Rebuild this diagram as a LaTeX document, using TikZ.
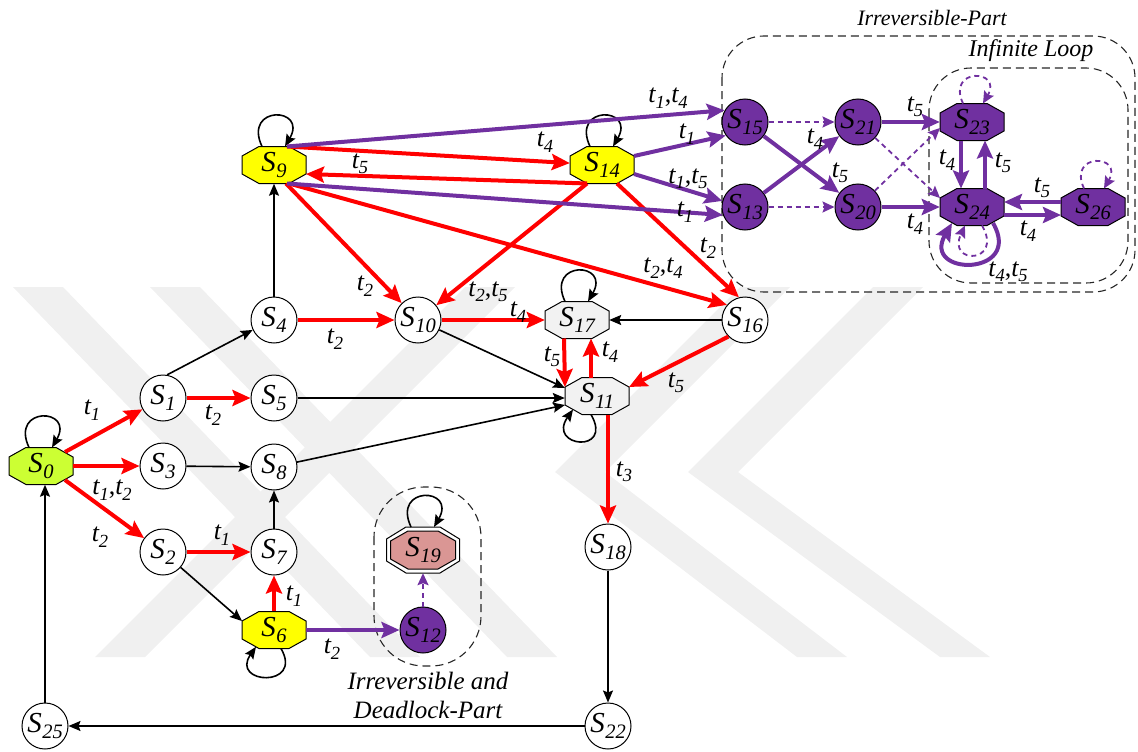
\documentclass[tikz,border=0pt]{standalone}
\usepackage{fontspec}
\setmainfont{Liberation Serif}
\usetikzlibrary{arrows.meta}
\definecolor{vio}{RGB}{112,48,160}
\definecolor{rd}{RGB}{255,0,0}
\definecolor{yel}{RGB}{255,255,0}
\definecolor{lime}{RGB}{204,255,51}
\definecolor{lgr}{RGB}{242,242,242}
\definecolor{rose}{RGB}{218,150,148}
\definecolor{wmark}{RGB}{240,240,240}
% state and transition names with subscripts
\newcommand\Sn[1]{{\fontsize{29}{29}\selectfont\itshape S}\kern0.5pt\raisebox{-6pt}{\fontsize{20.5}{20.5}\selectfont\itshape #1}}
\newcommand\Tn[1]{{\fontsize{26}{26}\selectfont\itshape t}\raisebox{-5.5pt}{\fontsize{18.5}{18.5}\selectfont\itshape #1}}
\begin{document}
\begin{tikzpicture}[x=1pt,y=1pt,
  every node/.style={font=\fontsize{26}{26}\selectfont},
  circ/.style={circle,draw,line width=1pt,fill=white,minimum size=46pt,inner sep=0pt},
  pcirc/.style={circ,fill=vio},
  octbox/.style={rectangle,minimum width=64pt,minimum height=37pt,inner sep=0pt},
  lbl/.style={font=\fontsize{26}{26}\selectfont,inner sep=0pt},
  ttl/.style={font=\fontsize{24}{24}\selectfont\itshape,inner sep=0pt},
  redarr/.style={draw=rd,line width=4pt,-{Stealth[length=18pt,width=16pt,inset=3pt]}},
  vioarr/.style={draw=vio,line width=4pt,-{Stealth[length=18pt,width=16pt,inset=3pt]}},
  vdash/.style={draw=vio,line width=1.8pt,dash pattern=on 5pt off 4pt,-{Stealth[length=12pt,width=11pt,inset=2pt]}},
  blk/.style={draw=black,line width=1.6pt,-{Stealth[length=12pt,width=10pt,inset=2pt]}},
  region/.style={draw=black!85,line width=1.1pt,dash pattern=on 8pt off 5pt,rounded corners=42pt},
  pics/octo/.style={code={\filldraw[fill=#1,line width=1pt] (-32,9) -- (-15,18.5) -- (15,18.5) -- (32,9) -- (32,-9) -- (15,-18.5) -- (-15,-18.5) -- (-32,-9) -- cycle;}},
  pics/octodbl/.style={code={
    \filldraw[fill=white,line width=1pt] (-36.5,11) -- (-17,23) -- (17,23) -- (36.5,11) -- (36.5,-11) -- (17,-23) -- (-17,-23) -- (-36.5,-11) -- cycle;
    \filldraw[fill=#1,line width=1pt] (-32.5,9) -- (-15,19) -- (15,19) -- (32.5,9) -- (32.5,-9) -- (15,-19) -- (-15,-19) -- (-32.5,-9) -- cycle;}},
]
\useasboundingbox (0,0) rectangle (1138,-752);

% faint background stripes
\fill[wmark] (13,-287) -- (63,-287) -- (420,-657) -- (370,-657) -- cycle;
\fill[wmark] (150,-287) -- (200,-287) -- (557,-657) -- (507,-657) -- cycle;
\fill[wmark] (95,-657) -- (145,-657) -- (515,-287) -- (465,-287) -- cycle;
\fill[wmark] (873,-287) -- (923,-287) -- (738,-472) -- (990,-657) -- (940,-657) -- (688,-472) -- cycle;
\fill[wmark] (740,-287) -- (790,-287) -- (605,-472) -- (847,-657) -- (797,-657) -- (555,-472) -- cycle;

% grouping outlines
\draw[region] (722,-36) rectangle (1135,-292);
\draw[region] (929,-68) rectangle (1128,-283);
\draw[region,rounded corners=50pt] (374,-487) rectangle (481,-666);
\node[ttl,font=\fontsize{22}{22}\selectfont\itshape] (tirr) at (932,-18) {Irreversible-Part};
\node[ttl,font=\fontsize{24}{24}\selectfont\itshape] (tinf) at (1031,-51) {Infinite Loop};
\node[ttl,font=\fontsize{25}{25}\selectfont\itshape] (tdl1) at (428,-681) {Irreversible and};
\node[ttl,font=\fontsize{25}{25}\selectfont\itshape] (tdl2) at (428,-710) {Deadlock-Part};

% octagonal states
\pic at (41,-466) {octo=lime};
\pic at (274,-165) {octo=yel};
\pic at (602,-165) {octo=yel};
\pic at (274,-630) {octo=yel};
\pic at (577,-320) {octo=lgr};
\pic at (597,-396) {octo=lgr};
\pic at (972,-122) {octo=vio};
\pic at (972,-207) {octo=vio};
\pic at (1093,-207) {octo=vio};
\pic at (423,-550) {octodbl=rose};

\node[octbox] (S0) at (41,-466) {\Sn{0}};
\node[octbox] (S9) at (274,-165) {\Sn{9}};
\node[octbox] (S14) at (602,-165) {\Sn{14}};
\node[octbox] (S6) at (274,-630) {\Sn{6}};
\node[octbox] (S17) at (577,-320) {\Sn{17}};
\node[octbox] (S11) at (597,-396) {\Sn{11}};
\node[octbox] (S23) at (972,-122) {\Sn{23}};
\node[octbox] (S24) at (972,-207) {\Sn{24}};
\node[octbox] (S26) at (1093,-207) {\Sn{26}};
\node[octbox,minimum width=73pt,minimum height=46pt] (S19) at (423,-550) {\Sn{19}};

% circular states
\node[circ] (S1) at (163,-398) {\Sn{1}};
\node[circ] (S3) at (163,-466) {\Sn{3}};
\node[circ] (S2) at (163,-552) {\Sn{2}};
\node[circ] (S4) at (274,-320) {\Sn{4}};
\node[circ] (S5) at (274,-398) {\Sn{5}};
\node[circ] (S8) at (274,-467) {\Sn{8}};
\node[circ] (S7) at (274,-552) {\Sn{7}};
\node[circ] (S10) at (418,-320) {\Sn{10}};
\node[circ] (S16) at (745,-320) {\Sn{16}};
\node[circ] (S18) at (608,-547) {\Sn{18}};
\node[circ] (S22) at (608,-726) {\Sn{22}};
\node[circ] (S25) at (45,-726) {\Sn{25}};
\node[pcirc] (S12) at (423,-630) {\Sn{12}};
\node[pcirc] (S15) at (745,-122) {\Sn{15}};
\node[pcirc] (S13) at (745,-207) {\Sn{13}};
\node[pcirc] (S21) at (858,-122) {\Sn{21}};
\node[pcirc] (S20) at (858,-207) {\Sn{20}};

% black transitions
\draw[blk] (S1.80) -- (S4.205);
\draw[blk] (S4) -- (S9);
\draw[blk] (S3) -- (S8);
\draw[blk] (S7) -- (S8);
\draw[blk] (S2) -- ([shift={(-32,9)}]S6.center);
\draw[blk] (S5) -- (S11.west |- S5);
\draw[blk] (S8) -- ([shift={(-32,-9)}]S11.center);
\draw[blk] (S10) -- ([shift={(-32,8)}]S11.center);
\draw[blk] (S16) -- (S17);
\draw[blk] (S18) -- (S22);
\draw[blk] (S22) -- (S25);
\draw[blk] (S25) -- (S25 |- S0.south);

% black self loops
\draw[blk] ([shift={(-12,18.5)}]S0.center) .. controls +(115:46) and +(60:46) .. ([shift={(11,18.5)}]S0.center);
\draw[blk] ([shift={(-12,18.5)}]S9.center) .. controls +(115:46) and +(60:46) .. ([shift={(11,18.5)}]S9.center);
\draw[blk] ([shift={(-12,18.5)}]S14.center) .. controls +(115:46) and +(60:46) .. ([shift={(11,18.5)}]S14.center);
\draw[blk] ([shift={(-12,18.5)}]S17.center) .. controls +(115:46) and +(60:46) .. ([shift={(11,18.5)}]S17.center);
\draw[blk] ([shift={(-12,23)}]S19.center) .. controls +(115:46) and +(60:46) .. ([shift={(11,23)}]S19.center);
\draw[blk] ([shift={(-6,-18.5)}]S11.center) .. controls +(-60:46) and +(-125:46) .. ([shift={(-24,-13.5)}]S11.center);
\draw[blk] ([shift={(7,-18.5)}]S6.center) .. controls +(-60:46) and +(-125:46) .. ([shift={(-18,-16.8)}]S6.center);

% red transitions
\draw[redarr] ([shift={(24,14)}]S0.center) -- (S1) node[lbl] at (92,-410) {\Tn{1}};
\draw[redarr] (S0) -- (S3) node[lbl] at (112,-490) {\Tn{1},\Tn{2}};
\draw[redarr] ([shift={(24,-14)}]S0.center) -- (S2) node[lbl] at (100,-537) {\Tn{2}};
\draw[redarr] (S1) -- (S5) node[lbl] at (213,-415) {\Tn{2}};
\draw[redarr] (S2) -- (S7) node[lbl] at (222,-535) {\Tn{1}};
\draw[redarr] (S6) -- (S7) node[lbl] at (294,-596) {\Tn{1}};
\draw[redarr] (S4) -- (S10) node[lbl] at (335,-339) {\Tn{2}};
\draw[redarr] ([shift={(12,-18.5)}]S9.center) -- (S10) node[lbl] at (365,-286) {\Tn{2}};
\draw[redarr] ([shift={(-15,-18.5)}]S14.center) -- (S10) node[lbl] at (488,-292) {\Tn{2},\Tn{5}};
\draw[redarr] ([shift={(13,18.5)}]S9.center) -- (S14) node[lbl] at (545,-142) {\Tn{4}};
\draw[redarr] ([shift={(-15,-18.5)}]S14.center) -- ([shift={(32,-9)}]S9.center) node[lbl] at (360,-164) {\Tn{5}};
\draw[redarr] ([shift={(15,-18.5)}]S9.center) -- (S16.140) node[lbl] at (663,-268) {\Tn{2},\Tn{4}};
\draw[redarr] ([shift={(15,-18.5)}]S14.center) -- (S16.105) node[lbl] at (708,-248) {\Tn{2}};
\draw[redarr] (S10) -- (S17) node[lbl] at (518,-312) {\Tn{4}};
\draw[redarr] ([shift={(-13,-18.5)}]S17.center) -- ([shift={(-32,9)}]S11.center) node[lbl] at (552,-357) {\Tn{5}};
\draw[redarr] ([shift={(-6,18.5)}]S11.center) -- ([shift={(14,-18.5)}]S17.center) node[lbl] at (610,-352) {\Tn{4}};
\draw[redarr] (S16.225) -- ([shift={(32,9)}]S11.center) node[lbl] at (676,-383) {\Tn{5}};
\draw[redarr] ([shift={(11,-18.5)}]S11.center) -- (S18) node[lbl] at (624,-472) {\Tn{3}};

% purple transitions
\draw[vioarr] ([shift={(13,18.5)}]S9.center) -- (S15.150) node[lbl] at (668,-98) {\Tn{1},\Tn{4}};
\draw[vioarr] ([shift={(32,9)}]S14.center) -- (S15.215) node[lbl] at (687,-134) {\Tn{1}};
\draw[vioarr] ([shift={(32,-9)}]S14.center) -- (S13.165) node[lbl] at (688,-179) {\Tn{1},\Tn{5}};
\draw[vioarr] ([shift={(13,-18.5)}]S9.center) -- (S13.200) node[lbl] at (685,-212) {\Tn{1}};
\draw[vioarr] (S6) -- (S12) node[lbl] at (332,-649) {\Tn{2}};
\draw[vioarr] (S15) -- (S20) node[lbl] at (840,-173) {\Tn{5}};
\draw[vioarr] (S13) -- (S21) node[lbl] at (815,-139) {\Tn{4}};
\draw[vioarr] (S21) -- (S23) node[lbl] at (915,-107) {\Tn{5}};
\draw[vioarr] (S20) -- (S24) node[lbl] at (915,-224) {\Tn{4}};
\draw[vioarr] ([shift={(-11,-18.5)}]S23.center) -- ([shift={(-11,18.5)}]S24.center) node[lbl] at (947,-160) {\Tn{4}};
\draw[vioarr] ([shift={(13,18.5)}]S24.center) -- ([shift={(13,-18.5)}]S23.center) node[lbl] at (1003,-163) {\Tn{5}};
\draw[vioarr] ([shift={(-32,5)}]S26.center) -- ([shift={(32,5)}]S24.center) node[lbl] at (1042,-188) {\Tn{5}};
\draw[vioarr] ([shift={(32,-8)}]S24.center) -- ([shift={(-32,-8)}]S26.center) node[lbl] at (1028,-231) {\Tn{4}};
\draw[vioarr] ([shift={(21,-16)}]S24.center) .. controls +(-60:62) and +(-120:62) .. ([shift={(-20,-16)}]S24.center) node[lbl] at (1008,-272) {\Tn{4},\Tn{5}};

% dashed purple transitions
\draw[vdash] (S15) -- (S21);
\draw[vdash] (S13) -- (S20);
\draw[vdash] (S21) -- ([shift={(-32,9)}]S24.center);
\draw[vdash] (S20) -- ([shift={(-32,-6)}]S23.center);
\draw[vdash] (S12) -- (S19);
\draw[vdash] ([shift={(-9,18.5)}]S23.center) .. controls +(115:40) and +(60:40) .. ([shift={(11,18.5)}]S23.center);
\draw[vdash] ([shift={(-9,18.5)}]S26.center) .. controls +(115:40) and +(60:40) .. ([shift={(11,18.5)}]S26.center);
\draw[vdash] ([shift={(10,-18.5)}]S24.center) .. controls +(-60:44) and +(-115:44) .. ([shift={(-7,-18.5)}]S24.center);
\end{tikzpicture}
\end{document}
